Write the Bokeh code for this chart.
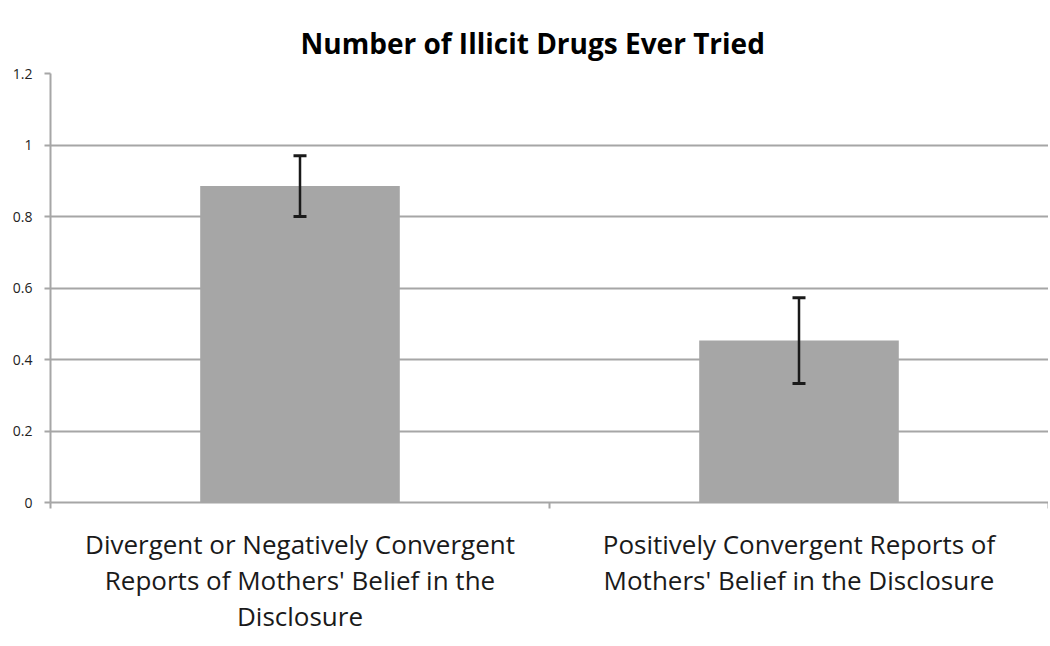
from bokeh.plotting import figure
from bokeh.models import ColumnDataSource, Range1d, FixedTicker, Whisker, TeeHead
from bokeh.embed import file_html
from bokeh.resources import INLINE

categories = ["Divergent or Negatively Convergent\nReports of Mothers' Belief in the\nDisclosure",
              "Positively Convergent Reports of\nMothers' Belief in the Disclosure"]
means = [0.885, 0.453]
errors = [0.085, 0.12]
y_ticks = [0, 0.2, 0.4, 0.6, 0.8, 1.0, 1.2]
y_tick_labels = ["0", "0.2", "0.4", "0.6", "0.8", "1", "1.2"]

xs = [i + 0.5 for i in range(len(categories))]
src = ColumnDataSource(dict(x=xs, top=means,
                            upper=[m + e for m, e in zip(means, errors)],
                            lower=[m - e for m, e in zip(means, errors)]))

p = figure(width=1048, height=636, output_backend="svg", toolbar_location=None,
           x_range=Range1d(0, len(categories)), y_range=Range1d(0, 1.2),
           title="Number of Illicit Drugs Ever Tried",
           min_border_left=50, min_border_right=0, min_border_top=73, min_border_bottom=123)
p.outline_line_color = None
p.title.align = "left"
p.title.text_font = "Open Sans"
p.title.text_font_style = "bold"
p.title.text_font_size = "28px"
p.title.text_color = "#000000"
p.title.offset = 250
p.title.standoff = 24

p.vbar(x="x", top="top", width=0.4, bottom=0, source=src, fill_color="#a6a6a6", line_color=None)
w = Whisker(base="x", upper="upper", lower="lower", source=src, line_color="#1a1a1a", line_width=2.5,
            level="overlay",
            upper_head=TeeHead(size=13, line_color="#1a1a1a", line_width=3),
            lower_head=TeeHead(size=13, line_color="#1a1a1a", line_width=3))
p.add_layout(w)

# y axis
p.yaxis.ticker = FixedTicker(ticks=y_ticks)
p.yaxis.major_label_overrides = {t: l for t, l in zip(y_ticks, y_tick_labels)}
p.yaxis.axis_line_color = "#a6a6a6"
p.yaxis.axis_line_width = 2
p.yaxis.major_tick_line_color = "#a6a6a6"
p.yaxis.major_tick_line_width = 2
p.yaxis.major_tick_out = 6
p.yaxis.major_tick_in = 0
p.yaxis.minor_tick_line_color = None
p.yaxis.major_label_text_font = "Open Sans"
p.yaxis.major_label_text_font_size = "14px"
p.yaxis.major_label_text_color = "#222222"
p.yaxis.major_label_standoff = 12

# x axis
p.xaxis.ticker = FixedTicker(ticks=xs, minor_ticks=[0, 1, 2])
p.xaxis.major_label_overrides = {x: c for x, c in zip(xs, categories)}
p.xaxis.axis_line_color = "#a6a6a6"
p.xaxis.axis_line_width = 2
p.xaxis.major_tick_line_color = None
p.xaxis.minor_tick_line_color = "#a6a6a6"
p.xaxis.minor_tick_line_width = 2
p.xaxis.minor_tick_out = 6
p.xaxis.minor_tick_in = 0
p.xaxis.major_label_text_font = "Open Sans"
p.xaxis.major_label_text_font_size = "26px"
p.xaxis.major_label_text_line_height = 1.0
p.xaxis.major_label_text_color = "#1a1a1a"
p.xaxis.major_label_standoff = 17

p.xgrid.grid_line_color = None
p.ygrid.ticker = FixedTicker(ticks=y_ticks)
p.ygrid.grid_line_color = "#a6a6a6"
p.ygrid.grid_line_width = 2

open("out.html", "w").write(file_html(p, INLINE))
